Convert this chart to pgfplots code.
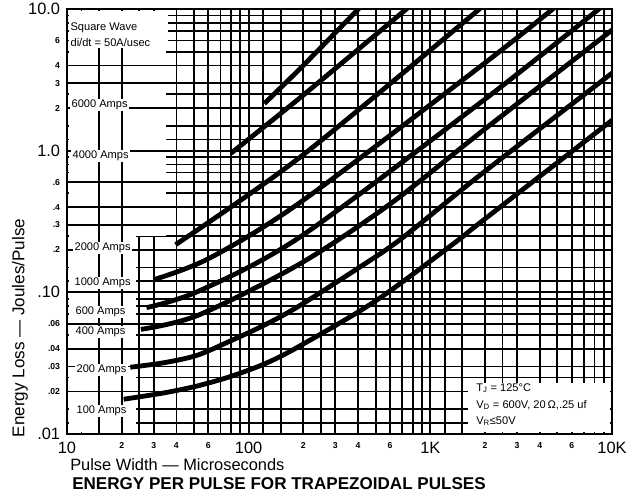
\documentclass[border=0pt]{standalone}
\usepackage{pgfplots}
\pgfplotsset{compat=1.18}
\usepackage{fontspec}
\setmainfont{Liberation Sans}
\newcommand\ms{\bfseries\fontsize{6.5}{7}\selectfont}
\newcommand\MS{\fontsize{12.3}{13}\selectfont}
\newcommand\lab{\fontsize{8.3}{9}\selectfont}
\tikzset{gl/.style={black, line width=1.3pt}}
\begin{document}
\begin{tikzpicture}
\begin{axis}[
  scale only axis, width=408.75pt, height=318.75pt,
  at={(0pt,0pt)}, anchor=south west,
  xmode=log, ymode=log,
  xmin=10, xmax=10000, ymin=0.01, ymax=10,
  axis line style={line width=2.2pt},
  grid=both,
  major grid style={gl},
  minor grid style={gl},
  major tick length=0pt, minor tick length=0pt,
  xtick={10,20,30,40,60,100,200,300,400,600,1000,2000,3000,4000,6000,10000},
  xticklabels={{\MS 10},{\ms 2},{\ms 3},{\ms 4},{\ms 6},{\MS 100},{\ms 2},{\ms 3},{\ms 4},{\ms 6},{\MS 1K},{\ms 2},{\ms 3},{\ms 4},{\ms 6},{\MS 10K}},
  minor xtick={12,15,25,50,70,80,90,120,150,250,500,700,800,900,1200,1500,2500,5000,7000,8000,9000},
  ytick={0.01,0.02,0.03,0.04,0.06,0.1,0.2,0.3,0.4,0.6,1,2,3,4,6,10},
  yticklabels={{\MS .01},{\ms .02},{\ms .03},{\ms .04},{\ms .06},{\MS .10},{\ms .2},{\ms .3},{\ms .4},{\ms .6},{\MS 1.0},{\ms 2},{\ms 3},{\ms 4},{\ms 6},{\MS 10.0}},
  minor ytick={0.012,0.015,0.025,0.05,0.07,0.08,0.09,0.12,0.15,0.25,0.5,0.7,0.8,0.9,1.2,1.5,2.5,5,7,8,9},
  xticklabel style={inner sep=0pt, anchor=north, yshift=-6pt},
  yticklabel style={inner sep=0pt, anchor=east, xshift=-5pt},
  clip=true,
]
% sparse grid in the label strip on the left
\fill[white] (axis cs:10.25,0.25) rectangle (axis cs:35,9.75);
\fill[white] (axis cs:10.25,0.0103) rectangle (axis cs:24,0.25);
\draw[gl] (axis cs:10,6) -- (axis cs:35,6);
\draw[gl] (axis cs:10,4) -- (axis cs:35,4);
\draw[gl] (axis cs:10,3) -- (axis cs:35,3);
\draw[gl] (axis cs:10,2) -- (axis cs:35,2);
\draw[gl] (axis cs:10,1) -- (axis cs:35,1);
\draw[gl] (axis cs:10,0.6) -- (axis cs:35,0.6);
\draw[gl] (axis cs:10,0.4) -- (axis cs:35,0.4);
\draw[gl] (axis cs:10,0.3) -- (axis cs:35,0.3);
\draw[gl] (axis cs:10,0.2) -- (axis cs:24,0.2);
\draw[gl] (axis cs:10,0.1) -- (axis cs:24,0.1);
\draw[gl] (axis cs:10,0.06) -- (axis cs:24,0.06);
\draw[gl] (axis cs:10,0.04) -- (axis cs:24,0.04);
\draw[gl] (axis cs:10,0.03) -- (axis cs:24,0.03);
\draw[gl] (axis cs:10,0.02) -- (axis cs:24,0.02);
\draw[gl] (axis cs:15,0.01) -- (axis cs:15,10);
\draw[gl] (axis cs:20,0.01) -- (axis cs:20,10);

\pgfplotsset{cv/.style={black, line width=3.6pt, smooth, line cap=butt, mark=none}}
% 6000 A
\addplot[cv] coordinates {(122,2.15) (200,4.0) (420,10.6)};
% 4000 A
\addplot[cv] coordinates {(80,0.96) (197,2.43) (780,10.6)};
% 2000 A
\addplot[cv] coordinates {(39.6,0.217) (195,0.914) (1950,10.5)};
% 1000 A
\addplot[cv] coordinates {(30.1,0.123) (60.7,0.174) (192.5,0.432) (1948,4.06) (4900,10.4)};
% 600 A
\addplot[cv] coordinates {(27.4,0.078) (53.1,0.102) (191,0.245) (1930,2.23) (8800,10.4)};
% 400 A
\addplot[cv] coordinates {(25.5,0.0548) (52.8,0.069) (190,0.158) (600,0.42) (1919,1.366) (10500,7.45)};
% 200 A
\addplot[cv] coordinates {(22.3,0.0296) (34.4,0.0319) (52.2,0.036) (79.7,0.0455) (123,0.059) (188,0.0796) (400,0.148) (695,0.24) (1897,0.679) (10500,3.7)};
% 100 A
\addplot[cv] coordinates {(20.5,0.0176) (34.1,0.0195) (51.9,0.0218) (79,0.0254) (121.8,0.0312) (186,0.041) (500,0.087) (1395,0.229) (1877,0.31) (10500,1.72)};
\end{axis}

% annotation boxes
\node[anchor=north west, fill=white, inner sep=0pt, minimum width=74pt, minimum height=26pt] at (1.6pt,317.5pt) {};
\node[anchor=west, inner sep=1pt, font=\lab] at (1.5pt,304.5pt) {Square Wave};
\node[anchor=west, inner sep=1pt, font=\lab, fill=white] at (1.5pt,293.25pt) {di/dt = 50A/usec};
\node[anchor=west, inner sep=1pt, font=\lab, fill=white] at (2.25pt,246.75pt) {6000 Amps};
\node[anchor=west, inner sep=1pt, font=\lab, fill=white] at (3pt,208.5pt) {4000 Amps};
\node[anchor=west, inner sep=1pt, font=\lab, fill=white] at (4.5pt,139.5pt) {2000 Amps};
\node[anchor=west, inner sep=1pt, font=\lab, fill=white] at (4.5pt,113.25pt) {1000 Amps};
\node[anchor=west, inner sep=1pt, font=\lab, fill=white] at (5.25pt,91.5pt) {600 Amps};
\node[anchor=west, inner sep=1pt, font=\lab, fill=white] at (5.25pt,76.5pt) {400 Amps};
\node[anchor=west, inner sep=1pt, font=\lab, fill=white] at (6pt,48pt) {200 Amps};
\node[anchor=west, inner sep=1pt, font=\lab, fill=white] at (6pt,17.25pt) {100 Amps};

\fill[white] (300.75pt,1.3pt) rectangle (407.5pt,38.25pt);
\node[anchor=west, inner sep=0pt, font=\lab] at (306.75pt,34.5pt) {T\textsubscript{J} = 125°C};
\node[anchor=west, inner sep=0pt, font=\lab] at (306.75pt,21.75pt) {V\textsubscript{D} = 600V, 20\,Ω,.25 uf};
\node[anchor=west, inner sep=0pt, font=\lab] at (306.75pt,9.75pt) {V\textsubscript{R}≤50V};

% axis titles
\node[anchor=base west, inner sep=0pt, font=\fontsize{12.3}{14}\selectfont] at (2.25pt,-27.6pt) {Pulse Width — Microseconds};
\node[rotate=90, inner sep=0pt, font=\fontsize{12.8}{14}\selectfont] at (-35.25pt,79.5pt) {Energy Loss — Joules/Pulse};
\node[anchor=base west, inner sep=0pt, font=\bfseries\fontsize{12.8}{15}\selectfont] at (3.75pt,-41.6pt) {ENERGY PER PULSE FOR TRAPEZOIDAL PULSES};

\pgfresetboundingbox
\useasboundingbox (-50.25pt,-44.25pt) rectangle (430.5pt,325.5pt);
\end{tikzpicture}
\end{document}
